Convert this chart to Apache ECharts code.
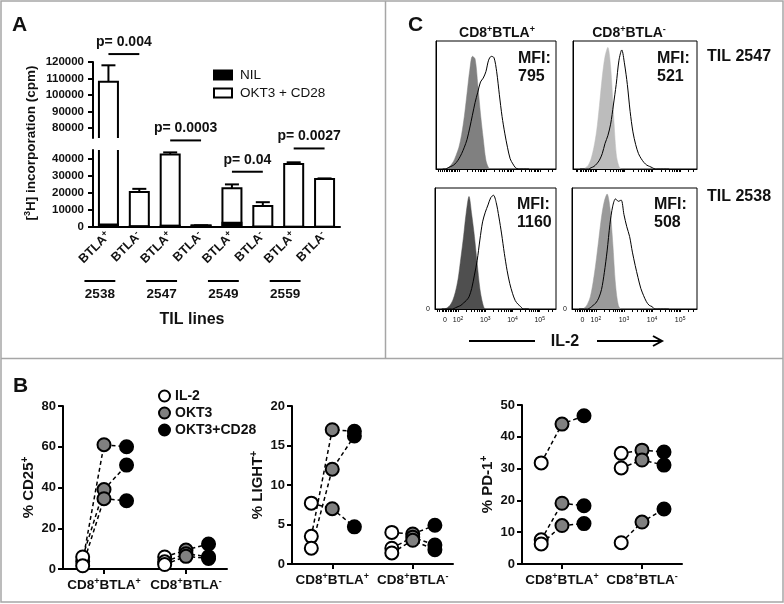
<!DOCTYPE html>
<html><head><meta charset="utf-8">
<script src="https://cdn.jsdelivr.net/npm/echarts@6/dist/echarts.min.js"></script>
<style>html,body{margin:0;padding:0;background:#fff}#c{width:784px;height:604px}</style>
</head><body><div id="c"></div>
<script>
const FONT = "'Liberation Sans', Arial, sans-serif";
const TXT = '#111';

// ---------- Panel A ----------
const aCategories = ['BTLA+','BTLA-','BTLA+','BTLA-','BTLA+','BTLA-','BTLA+','BTLA-'];
const aTilLines = ['2538','2547','2549','2559'];
const aOkt3Cd28 = [108000, 20500, 42400, 800, 22600, 12300, 36800, 28000];
const aOkt3Cd28Err = [10000, 1800, 1200, 200, 2300, 2200, 1000, 400];
const aNil = [1500, 500, 800, 900, 2500, 300, 200, 200];
const aUpperTicks = [80000, 90000, 100000, 110000, 120000];
const aLowerTicks = [0, 10000, 20000, 30000, 40000];
const aPLabels = ['p= 0.004', 'p= 0.0003', 'p= 0.04', 'p= 0.0027'];
const aPLeftBar = [0, 2, 4, 6];
const aPHeight = [124800, 50600, 32300, 45900];

// ---------- Panel C ----------
const cHistX = [1.4,1.5,1.6,1.7,1.8,1.9,2.0,2.1,2.2,2.3,2.4,2.5,2.6,2.7,2.8,2.9,3.0,3.1,3.2,3.3,3.4,3.5,3.6,3.7,3.8,3.9,4.0,4.1,4.2,4.3,4.4,4.5,4.6];
const cTLControl = [0,0,1,3,6,11,17,27,41,59,77,88,86,66,43,24,7,1,0,0,0,0,0,0,0,0,0,0,0,0,0,0,0];
const cTLIl2     = [0,0,1,2,3,5,8,12,17,23,32,42,52,60,68,71,76,85,88,87,76,58,41,28,17,8,4,1,0,0,0,0,0];
const cTRControl = [0,0,1,3,8,17,30,50,72,88,95,80,45,12,2,0,0,0,0,0,0,0,0,0,0,0,0,0,0,0,0,0,0];
const cTRIl2     = [0,0,0,0,1,2,4,7,12,20,26,35,50,66,85,93,82,66,45,29,19,12,8,5,3,2,1,0,0,0,0,0,0];
const cBLControl = [0,0,1,3,7,14,25,42,60,80,93,78,60,38,17,5,0,0,0,0,0,0,0,0,0,0,0,0,0,0,0,0,0];
const cBLIl2     = [0,0,0,0,0,1,2,3,5,7,10,17,28,40,57,72,80,86,92,94,88,76,62,46,32,21,13,7,4,2,0,0,0];
const cBRControl = [0,0,1,4,10,22,38,57,76,89,95,84,55,20,3,0,0,0,0,0,0,0,0,0,0,0,0,0,0,0,0,0,0];
const cBRIl2     = [0,0,0,0,1,3,5,9,16,30,48,70,85,91,89,90,78,68,60,47,36,26,17,11,6,3,2,0,0,0,0,0,0];
const cColumns = ['CD8+BTLA+', 'CD8+BTLA-'];
const cRows = ['TIL 2547', 'TIL 2538'];
const cMFI = ['795', '521', '1160', '508'];
const cXLabelPos = [1.52, 2, 3, 4, 5];
const cXLabelText = ['0', '10^2', '10^3', '10^4', '10^5'];

// ---------- Panel B ----------
const bCategories = ['CD8+BTLA+', 'CD8+BTLA-'];
const bConditions = ['IL-2', 'OKT3', 'OKT3+CD28'];
const bYNames = ['% CD25+', '% LIGHT+', '% PD-1+'];
const bYMax = [80, 20, 50];
const bYInterval = [20, 5, 10];
// each sample: [IL-2, OKT3, OKT3+CD28]
const cd25BtlaPos  = [[3.8, 61, 60], [5.9, 39, 51], [1.6, 34.5, 33.5]];
const cd25BtlaNeg  = [[5.9, 9.3, 12.3], [3.5, 7.5, 6.0], [2.2, 6.2, 5.2]];
const lightBtlaPos = [[3.5, 17, 16.8], [2.0, 12, 16.2], [7.7, 7, 4.7]];
const lightBtlaNeg = [[4.0, 3.8, 4.9], [2.0, 3.4, 2.4], [1.4, 3.0, 1.8]];
const pd1BtlaPos   = [[31.8, 44, 46.6], [7.6, 19.1, 18.3], [6.3, 12.1, 12.7]];
const pd1BtlaNeg   = [[34.8, 35.8, 35.2], [30.2, 32.7, 31.1], [6.7, 13.2, 17.3]];

// ---------- helpers ----------
const supify = s => s.replace(/\+/g, '{s|+}').replace(/-$/, '{s|-}');
const supRich = (size) => ({ s: { fontSize: size, fontWeight: 'bold', fontFamily: FONT, color: TXT, verticalAlign: 'top', lineHeight: size + 1 } });

const chart = echarts.init(document.getElementById('c'), null, { renderer: 'canvas', width: 784, height: 604 });

const grid = [
  { left: 93, top: 62, width: 247, height: 76 },
  { left: 93, top: 150, width: 247, height: 77 },
  { left: 436, top: 41, width: 120, height: 128, show: true, borderColor: '#000', borderWidth: 1 },
  { left: 573, top: 41, width: 124, height: 128, show: true, borderColor: '#000', borderWidth: 1 },
  { left: 435, top: 188, width: 121, height: 121, show: true, borderColor: '#000', borderWidth: 1 },
  { left: 572, top: 188, width: 125, height: 121, show: true, borderColor: '#000', borderWidth: 1 },
  { left: 63, top: 406, width: 164, height: 163 },
  { left: 292, top: 406, width: 161, height: 158 },
  { left: 522, top: 405, width: 160, height: 159 }
];

const blackLine = (w) => ({ color: '#000', width: w });
const xAxis = [], yAxis = [];

// A axes
xAxis.push({ gridIndex: 0, type: 'category', data: aCategories, show: false });
xAxis.push({ gridIndex: 1, type: 'category', data: aCategories,
  axisLine: { lineStyle: blackLine(2) },
  axisTick: { alignWithLabel: true, length: 5, lineStyle: blackLine(2) },
  axisLabel: { interval: 0, rotate: 45, margin: 7, formatter: v => supify(v), fontSize: 12.5, fontWeight: 'bold', fontFamily: FONT, color: TXT, lineHeight: 15, rich: supRich(9) } });
[[74000, 120000, aUpperTicks], [0, 45000, aLowerTicks]].forEach(([mn, mx, ticks], g) => {
  yAxis.push({ gridIndex: g, type: 'value', min: mn, max: mx,
    axisLine: { show: true, lineStyle: blackLine(2) },
    axisTick: { show: true, customValues: ticks, length: 5, lineStyle: blackLine(2) },
    axisLabel: { customValues: ticks, formatter: v => String(Math.round(v)), fontSize: 11.5, fontWeight: 'bold', fontFamily: FONT, color: TXT, margin: 9 },
    splitLine: { show: false } });
});

// C axes
const cTicks = [];
for (let k = 2; k <= 5; k++) for (let m = 1; m <= 9; m++) { const t = k + Math.log10(m); if (t < 5.6) cTicks.push(t); }
[1.25, 1.32, 1.4, 1.46, 1.52, 1.58, 1.64, 1.7, 1.76, 1.82, 1.88, 1.94].forEach(t => cTicks.push(t));
for (let k = 0; k < 4; k++) {
  const bottom = k >= 2;
  xAxis.push({ gridIndex: 2 + k, type: 'value', min: 1.15, max: 5.6,
    axisLine: { lineStyle: blackLine(1) },
    axisTick: { show: true, customValues: cTicks, length: 3, lineStyle: blackLine(1) },
    splitLine: { show: false },
    axisLabel: bottom ? { customValues: cXLabelPos, margin: 7, fontSize: 7, fontFamily: FONT, color: TXT, lineHeight: 9,
      formatter: v => { const i = cXLabelPos.findIndex(p => Math.abs(p - v) < 0.01); const t = i >= 0 ? cXLabelText[i] : ''; return t.replace(/\^(\d)/, '{s|$1}'); },
      rich: { s: { fontSize: 5, fontFamily: FONT, color: TXT, verticalAlign: 'top', lineHeight: 6 } } } : { show: false } });
  yAxis.push({ gridIndex: 2 + k, type: 'value', min: 0, max: 100,
    axisLine: { show: true, lineStyle: blackLine(1) }, axisTick: { show: false }, splitLine: { show: false },
    axisLabel: bottom ? { customValues: [0], fontSize: 7, fontFamily: FONT, color: TXT, margin: 5 } : { show: false } });
}

// B axes
const bCatX = [1, 3];
const bOffsets = [-0.52, 0, 0.55];
for (let p = 0; p < 3; p++) {
  xAxis.push({ gridIndex: 6 + p, type: 'value', min: 0, max: 4,
    axisLine: { lineStyle: blackLine(2) },
    axisTick: { show: true, customValues: bCatX, length: 5, lineStyle: blackLine(2) },
    splitLine: { show: false },
    axisLabel: { customValues: bCatX, margin: 8, fontSize: 13.5, fontWeight: 'bold', fontFamily: FONT, color: TXT, lineHeight: 16,
      formatter: v => supify(bCategories[Math.abs(v - 1) < 0.01 ? 0 : 1]), rich: supRich(9) } });
  yAxis.push({ gridIndex: 6 + p, type: 'value', min: 0, max: bYMax[p], interval: bYInterval[p],
    axisLine: { show: true, lineStyle: blackLine(2) },
    axisTick: { show: true, length: 5, lineStyle: blackLine(2) },
    splitLine: { show: false },
    axisLabel: { fontSize: 13, fontWeight: 'bold', fontFamily: FONT, color: TXT, margin: 7 },
    name: supify(bYNames[p]), nameLocation: 'middle', nameGap: 22,
    nameTextStyle: { fontSize: 15, fontWeight: 'bold', fontFamily: FONT, color: TXT, lineHeight: 17, rich: supRich(10) } });
}

// ---------- series ----------
const series = [];
function barRender(fill) {
  return (params, api) => {
    const i = api.value(0), v = api.value(1);
    const top = api.coord([i, v]), base = api.coord([i, 0]);
    return { type: 'rect', shape: { x: top[0] - 9.5, y: top[1], width: 19, height: base[1] - top[1] },
      style: { fill, stroke: '#000', lineWidth: 2 } };
  };
}
function errRender(params, api) {
  const x = api.value(0), v = api.value(1), e = api.value(2);
  const p0 = api.coord([x, v]), p1 = api.coord([x, v + e]);
  return { type: 'group', children: [
    { type: 'line', shape: { x1: p0[0], y1: p0[1], x2: p1[0], y2: p1[1] }, style: { stroke: '#000', lineWidth: 2 } },
    { type: 'line', shape: { x1: p1[0] - 7, y1: p1[1], x2: p1[0] + 7, y2: p1[1] }, style: { stroke: '#000', lineWidth: 2 } }
  ] };
}
function pRender(params, api) {
  const i = api.value(0), h = api.value(1), k = api.value(2);
  const a = api.coord([i, h]), b = api.coord([i + 1, h]);
  return { type: 'group', children: [
    { type: 'line', shape: { x1: a[0], y1: a[1], x2: b[0], y2: b[1] }, style: { stroke: '#000', lineWidth: 2 } },
    { type: 'text', style: { text: aPLabels[k], x: (a[0] + b[0]) / 2, y: a[1] - 5, textAlign: 'center', textVerticalAlign: 'bottom', font: 'bold 14px ' + FONT, fill: TXT } }
  ] };
}
function groupRender(params, api) {
  const a = api.coord([api.value(0), 0]), b = api.coord([api.value(1), 0]);
  const x1 = a[0] - 24, x2 = b[0] - 24, y = a[1];
  return { type: 'group', children: [
    { type: 'line', shape: { x1, y1: y + 54, x2, y2: y + 54 }, style: { stroke: '#000', lineWidth: 2 } },
    { type: 'text', style: { text: aTilLines[params.dataIndex], x: (x1 + x2) / 2, y: y + 67, textAlign: 'center', textVerticalAlign: 'middle', font: 'bold 13.5px ' + FONT, fill: TXT } }
  ] };
}
[0, 1].forEach(g => {
  series.push({ name: 'OKT3 + CD28', type: 'custom', xAxisIndex: g, yAxisIndex: g, clip: true, silent: true, z: 2,
    data: aOkt3Cd28.map((v, i) => [i, v]), renderItem: barRender('#fff') });
  if (g === 1) series.push({ name: 'NIL', type: 'custom', xAxisIndex: g, yAxisIndex: g, clip: true, silent: true, z: 3,
    data: aNil.map((v, i) => [i, v]), renderItem: barRender('#000') });
  series.push({ type: 'custom', xAxisIndex: g, yAxisIndex: g, clip: true, silent: true, z: 4,
    data: aOkt3Cd28.map((v, i) => [i, v, aOkt3Cd28Err[i]]), renderItem: errRender });
});
series.push({ type: 'custom', xAxisIndex: 0, yAxisIndex: 0, clip: false, silent: true, z: 5,
  data: [[aPLeftBar[0], aPHeight[0], 0]], renderItem: pRender });
series.push({ type: 'custom', xAxisIndex: 1, yAxisIndex: 1, clip: false, silent: true, z: 5,
  data: [1, 2, 3].map(k => [aPLeftBar[k], aPHeight[k], k]), renderItem: pRender });
series.push({ type: 'custom', xAxisIndex: 1, yAxisIndex: 1, clip: false, silent: true, z: 5,
  data: aTilLines.map((t, i) => [i * 2, i * 2 + 1]), renderItem: groupRender });

const cPanels = [[cTLControl, cTLIl2], [cTRControl, cTRIl2], [cBLControl, cBLIl2], [cBRControl, cBRIl2]];
const cFill = ['#808080', '#bcbcbc', '#4f4f4f', '#9a9a9a'];
cPanels.forEach(([ctrl, il2], k) => {
  const g = 2 + k;
  series.push({ type: 'line', xAxisIndex: g, yAxisIndex: g, data: cHistX.map((x, i) => [x, ctrl[i]]), symbol: 'none', smooth: 0.3,
    lineStyle: { width: 0.5, color: cFill[k] }, areaStyle: { color: cFill[k], opacity: 1 }, z: 2, silent: true });
  series.push({ type: 'line', xAxisIndex: g, yAxisIndex: g, data: cHistX.map((x, i) => [x, il2[i]]), symbol: 'none', smooth: 0.3,
    lineStyle: { width: 1, color: '#000' }, z: 3, silent: true });
});

const bPanels = [[cd25BtlaPos, cd25BtlaNeg], [lightBtlaPos, lightBtlaNeg], [pd1BtlaPos, pd1BtlaNeg]];
const bFill = ['#ffffff', '#808080', '#000000'];
bPanels.forEach((groups, p) => {
  const g = 6 + p;
  groups.forEach((samples, c) => samples.forEach(s => series.push({ type: 'line', xAxisIndex: g, yAxisIndex: g, silent: true, z: 2,
    data: s.map((v, j) => [bCatX[c] + bOffsets[j], v]), symbol: 'none', lineStyle: { color: '#000', width: 1.5, type: [4, 3] } })));
  bConditions.forEach((name, j) => series.push({ name, type: 'scatter', xAxisIndex: g, yAxisIndex: g, silent: true, z: 3,
    data: groups.flatMap((samples, c) => samples.map(s => [bCatX[c] + bOffsets[j], s[j]])), symbolSize: 13,
    itemStyle: { color: bFill[j], borderColor: '#000', borderWidth: 2, opacity: 1 } }));
});

// ---------- graphic annotations ----------
function T(text, x, y, size, o = {}) {
  return { type: 'text', x, y, rotation: o.rot || 0, silent: true, z: 10,
    style: Object.assign({ text, font: (o.weight || 'bold') + ' ' + size + 'px ' + FONT, fill: TXT,
      textAlign: o.align || 'left', textVerticalAlign: o.va || 'middle' }, o.style || {}) };
}
const gRich = (size) => ({ s: { fontSize: size, fontWeight: 'bold', fontFamily: FONT, fill: TXT, color: TXT, verticalAlign: 'top', lineHeight: size + 1 } });
const BORDER = '#a6a6a6';
const graphic = [
  { type: 'rect', shape: { x: 1, y: 1, width: 782, height: 601 }, style: { fill: 'none', stroke: BORDER, lineWidth: 1.5 }, silent: true },
  { type: 'line', shape: { x1: 1, y1: 358.5, x2: 783, y2: 358.5 }, style: { stroke: BORDER, lineWidth: 1.5 }, silent: true },
  { type: 'line', shape: { x1: 385.5, y1: 1, x2: 385.5, y2: 358.5 }, style: { stroke: BORDER, lineWidth: 1.5 }, silent: true },
  T('A', 12, 25, 21), T('C', 408, 25, 21), T('B', 13, 386, 21),
  T('[{s|3}H] incorporation (cpm)', 31, 143, 13.5, { rot: Math.PI / 2, align: 'center', style: { lineHeight: 16, rich: gRich(9) } }),
  T(supify(cColumns[0]), 497, 33, 14, { align: 'center', style: { lineHeight: 16, rich: gRich(9) } }),
  T(supify(cColumns[1]), 629, 33, 14, { align: 'center', style: { lineHeight: 16, rich: gRich(9) } }),
  T('MFI:\n' + cMFI[0], 518, 50, 16, { va: 'top', style: { lineHeight: 18 } }),
  T('MFI:\n' + cMFI[1], 657, 50, 16, { va: 'top', style: { lineHeight: 18 } }),
  T('MFI:\n' + cMFI[2], 517, 196, 16, { va: 'top', style: { lineHeight: 18 } }),
  T('MFI:\n' + cMFI[3], 654, 196, 16, { va: 'top', style: { lineHeight: 18 } }),
  T(cRows[0], 707, 57, 16), T(cRows[1], 707, 197, 16),
  T('TIL lines', 192, 320, 16, { align: 'center' }),
  T('IL-2', 565, 342, 16, { align: 'center' }),
  { type: 'line', shape: { x1: 469, y1: 341, x2: 535, y2: 341 }, style: { stroke: '#000', lineWidth: 2 }, silent: true },
  { type: 'line', shape: { x1: 597, y1: 341, x2: 661, y2: 341 }, style: { stroke: '#000', lineWidth: 2 }, silent: true },
  { type: 'polyline', shape: { points: [[653, 336], [662, 341], [653, 346]] }, style: { stroke: '#000', lineWidth: 2, fill: 'none' }, silent: true }
];

chart.setOption({
  animation: false,
  backgroundColor: '#fff',
  textStyle: { fontFamily: FONT },
  grid, xAxis, yAxis, series, graphic,
  legend: [
    { data: [
        { name: 'NIL', itemStyle: { color: '#000', borderColor: '#000', borderWidth: 2 } },
        { name: 'OKT3 + CD28', itemStyle: { color: '#fff', borderColor: '#000', borderWidth: 2 } }],
      orient: 'vertical', left: 208, top: 63, icon: 'rect', itemWidth: 18, itemHeight: 9, itemGap: 4, selectedMode: false,
      textStyle: { fontSize: 13.5, fontFamily: FONT, color: TXT, padding: [0, 0, 0, 3] } },
    { data: bConditions.map((n, j) => ({ name: n, itemStyle: { color: bFill[j], borderColor: '#000', borderWidth: 2 } })),
      orient: 'vertical', left: 153, top: 384, icon: 'circle', itemWidth: 11, itemHeight: 11, itemGap: 3, selectedMode: false,
      textStyle: { fontSize: 14, fontWeight: 'bold', fontFamily: FONT, color: TXT } }
  ]
});
</script></body></html>
